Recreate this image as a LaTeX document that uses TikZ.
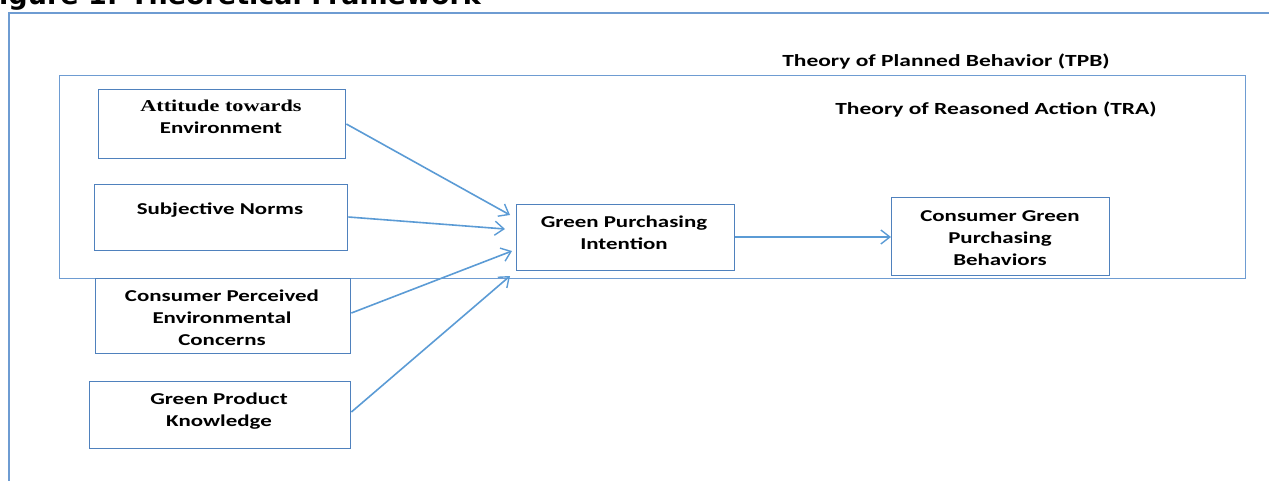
\documentclass[tikz,border=0pt]{standalone}
\usepackage{fontspec}
\setmainfont{Carlito}
\newfontfamily\widefont[FakeStretch=1.38]{Carlito}
\newfontfamily\titlefont{DejaVu Sans}
\newfontfamily\serifb[FakeStretch=1.34]{Liberation Serif}
\usetikzlibrary{arrows.meta}
\definecolor{boxblue}{HTML}{4F81BD}
\definecolor{arrblue}{HTML}{5B9BD5}
\definecolor{frameblue}{HTML}{6E9CD2}
\tikzset{
  boxn/.style={draw=boxblue, line width=1.4pt, minimum width=#1, inner sep=0pt},
  txt/.style={font=\widefont\fontsize{16.6}{22}\selectfont\bfseries, align=center, inner sep=0pt},
  theory/.style={font=\widefont\fontsize{17}{20}\selectfont\bfseries, inner sep=0pt},
  conn/.style={draw=arrblue, line width=1.6pt, -{Straight Barb[length=9pt,width=14pt,line width=1.4pt]}},
}
\begin{document}
\begin{tikzpicture}[x=1pt,y=-1pt]
\useasboundingbox (0,0) rectangle (1269,480);
% title (cut off)
\node[anchor=base east, inner sep=0pt, font=\titlefont\bfseries\fontsize{27}{30}\selectfont] (title) at (481,4) {Figure 1: Theoretical Framework};
% outer frame
\draw[frameblue, line width=1.4pt] (9,482) -- (9,13) -- (1272,13);
% TPB rectangle
\node[draw=frameblue, line width=1.3pt, minimum width=1186pt, minimum height=203pt, inner sep=0pt, anchor=north west] (tpb) at (59,75) {};
\node[theory] (tpbl) at (946,62) {Theory of Planned Behavior (TPB)};
\node[theory] (tral) at (996,110) {Theory of Reasoned Action (TRA)};
% boxes
\node[boxn=247pt, minimum height=69pt, anchor=north west] (att) at (98,89) {};
\node[txt] (attt) at (221,117) {{\serifb Attitude towards}\\Environment};
\node[boxn=253pt, minimum height=66pt, anchor=north west] (sub) at (94,184) {};
\node[txt] (subt) at (220,210) {Subjective Norms};
\node[boxn=255pt, minimum height=75pt, anchor=north west] (cpe) at (95,278) {};
\node[txt] (cpet) at (222,318) {Consumer Perceived\\Environmental\\Concerns};
\node[boxn=261pt, minimum height=67pt, anchor=north west] (gpk) at (89,381) {};
\node[txt] (gpkt) at (219,411) {Green Product\\Knowledge};
\node[boxn=218pt, minimum height=66pt, anchor=north west] (gpi) at (516,204) {};
\node[txt] (gpit) at (624,233) {Green Purchasing\\Intention};
\node[boxn=218pt, minimum height=78pt, anchor=north west] (cgb) at (891,197) {};
\node[txt] (cgbt) at (1000,238) {Consumer Green\\Purchasing\\Behaviors};
% connectors
\coordinate (a1) at (510,215);
\coordinate (a2) at (505,229);
\coordinate (a3) at (512,251);
\coordinate (a4) at (510,276);
\draw[conn] (att.east |- 0,124) -- (a1);
\draw[conn] (sub.east |- 0,217) -- (a2);
\draw[conn] (cpe.east |- 0,313) -- (a3);
\draw[conn] (gpk.east |- 0,412) -- (a4);
\draw[conn] (gpi.east |- 0,237) -- (cgb.west |- 0,237);
\end{tikzpicture}
\end{document}
